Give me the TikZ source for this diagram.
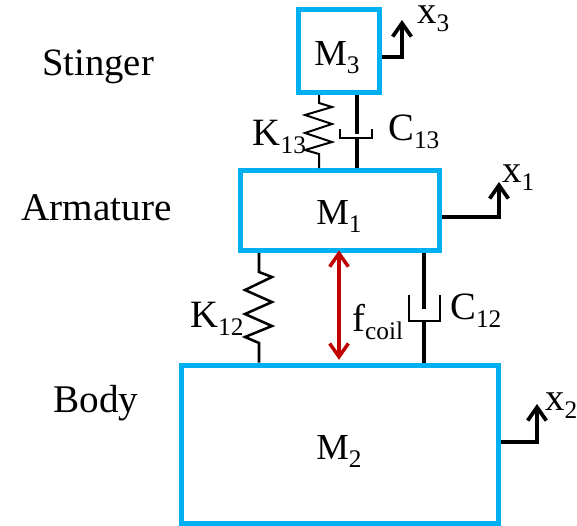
\documentclass[tikz,border=0pt]{standalone}
\usepackage{fontspec}
\setmainfont{Liberation Serif}
\usetikzlibrary{arrows.meta}
\definecolor{massblue}{HTML}{00B0F0}
\definecolor{coilred}{HTML}{C00000}
\newcommand{\lowsub}[1]{\raisebox{-6pt}{\fontsize{19}{19}\selectfont #1}}
\tikzset{
  x=0.75pt,y=-0.75pt,
  mass/.style={draw=massblue,line width=3.75pt,rectangle,inner sep=0pt},
  lab/.style={anchor=base west,inner sep=0pt,font=\fontsize{29}{29}\selectfont},
  wide/.style={font=\fontsize{29.4}{29}\selectfont},
  masslab/.style={anchor=base west,inner sep=0pt,font=\fontsize{27.5}{27}\selectfont},
  rod/.style={draw=black,line width=2.4pt,line join=miter},
  cup/.style={draw=black,line width=2pt,line join=miter},
  coil/.style={draw=black,line width=1.9pt,line join=miter},
  thincoil/.style={draw=black,line width=1.5pt,line join=miter},
  motion/.style={draw=black,line width=3.3pt,-{Straight Barb[length=10pt,width=14pt,line width=2.8pt]}},
  force/.style={draw=coilred,line width=2.6pt,shorten <=-2pt,shorten >=2pt,{Straight Barb[length=10pt,width=14pt,line width=2.6pt]}-{Straight Barb[length=10pt,width=14pt,line width=2.6pt]}}
}
\begin{document}
\begin{tikzpicture}
\useasboundingbox (0,0) rectangle (577,525);
\node[mass,minimum width=60.4pt,minimum height=62.25pt] (m3) at (338.75,51) {};
\node[mass,minimum width=149.25pt,minimum height=60pt] (m1) at (340,210.5) {};
\node[mass,minimum width=238pt,minimum height=118.5pt] (m2) at (339.75,444) {};

\coordinate (k13x) at (319,0);
\coordinate (c13x) at (357,0);
\coordinate (k12x) at (259,0);
\coordinate (c12x) at (424,0);
\coordinate (fx) at (339,0);
\coordinate (x3t) at (402,20);
\coordinate (x1t) at (499,182);
\coordinate (x2t) at (537,404);

% K13
\draw[thincoil] (k13x |- m3.south) -- (319,103) -- (332,107) -- (305,115) -- (332,124) -- (305,133) -- (332,142) -- (305,150) -- (319,154) -- (k13x |- m1.north);
% C13
\draw[rod] (c13x |- m3.south) -- (357,134);
\draw[cup] (340,129) -- (340,138) -- (372,138) -- (372,129);
\draw[rod] (357,138) -- (c13x |- m1.north);
% K12
\draw[coil] (k12x |- m1.south) -- (259,272) -- (272,277) -- (245,290) -- (272,302) -- (245,314) -- (272,326) -- (245,337) -- (259,343) -- (k12x |- m2.north);
% C12
\draw[rod] (c12x |- m1.south) -- (424,309);
\draw[cup] (409,295) -- (409,321) -- (440,321) -- (440,295);
\draw[rod] (424,321) -- (c12x |- m2.north);
% coil force
\draw[force] (fx |- m1.south) -- (fx |- m2.north);
% motions
\draw[motion] (m3.east |- 0,57) -- (x3t |- 0,57) -- (x3t);
\draw[motion] (m1.east |- 0,217) -- (x1t |- 0,217) -- (x1t);
\draw[motion] (m2.east |- 0,442) -- (x2t |- 0,442) -- (x2t);

\node[masslab] (lm3) at (314,65) {M\lowsub{3}};
\node[masslab] (lm1) at (316,224) {M\lowsub{1}};
\node[masslab] (lm2) at (316,459) {M\lowsub{2}};
\node[lab] (stinger) at (42,75) {Stinger};
\node[lab,wide] (armature) at (21,220) {Armature};
\node[lab,wide] (body) at (53,412) {Body};
\node[lab] (lx3) at (417,23) {x\lowsub{3}};
\node[lab] (lx1) at (502,182) {x\lowsub{1}};
\node[lab] (lx2) at (545,410) {x\lowsub{2}};
\node[lab] (lk13) at (252.5,145) {K\lowsub{13}};
\node[lab] (lc13) at (388,140) {C\lowsub{13}};
\node[lab] (lk12) at (190,327) {K\lowsub{12}};
\node[lab] (lc12) at (450,319) {C\lowsub{12}};
\node[lab] (lf) at (352,331) {f\lowsub{coil}};
\end{tikzpicture}
\end{document}
